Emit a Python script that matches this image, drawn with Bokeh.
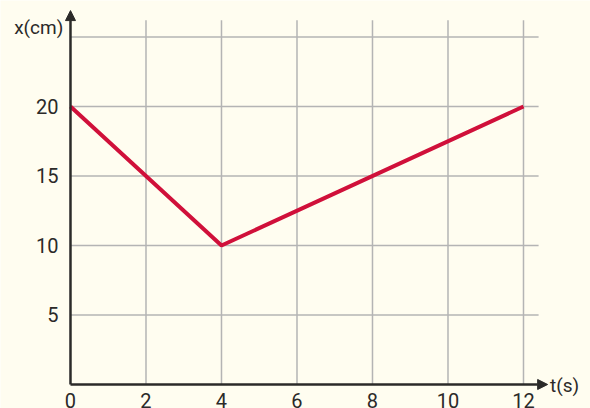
from bokeh.plotting import figure
from bokeh.models import FixedTicker, Arrow, NormalHead, Label, Range1d
from bokeh.embed import file_html
from bokeh.resources import INLINE

# data
t_values = [0, 4, 12]
x_values = [20, 10, 20]
x_ticks = [0, 2, 4, 6, 8, 10, 12]
y_ticks = [5, 10, 15, 20]
x_grid = [2, 4, 6, 8, 10, 12]
y_grid = [5, 10, 15, 20, 25]

BG = "#fffdf0"
INK = "#2b2a29"
FONT = "Roboto"

W, H = 590, 408
p = figure(width=W, height=H, output_backend="svg", toolbar_location=None,
           x_range=Range1d(-1.854, 13.775), y_range=Range1d(-1.727, 27.626),
           min_border=0, min_border_left=0, min_border_right=0,
           min_border_top=0, min_border_bottom=0,
           background_fill_color=BG, border_fill_color=BG, outline_line_color=None)
p.xgrid.visible = False
p.ygrid.visible = False

# grid lines
grid_col = "#b4b4b4"
p.segment(x0=x_grid, y0=[0] * len(x_grid), x1=x_grid, y1=[26.2] * len(x_grid),
          line_color=grid_col, line_width=1.5)
p.segment(x0=[0] * len(y_grid), y0=y_grid, x1=[12.4] * len(y_grid), y1=y_grid,
          line_color=grid_col, line_width=1.5)

# data line
p.line(t_values, x_values, line_color="#d0103a", line_width=4)

# axes
for ax in (p.xaxis, p.yaxis):
    ax.fixed_location = 0
    ax.axis_line_color = None
    ax.major_tick_line_color = None
    ax.minor_tick_line_color = None
    ax.major_tick_in = 0
    ax.major_tick_out = 0
    ax.minor_tick_in = 0
    ax.minor_tick_out = 0
    ax.major_label_text_font = FONT
    ax.major_label_text_font_size = "20px"
    ax.major_label_text_color = INK
p.xaxis.ticker = FixedTicker(ticks=x_ticks)
p.yaxis.ticker = FixedTicker(ticks=y_ticks)
p.xaxis.major_label_standoff = 9
p.yaxis.major_label_standoff = 12

# axis arrows
p.add_layout(Arrow(x_start=0, y_start=0, x_end=0, y_end=26.9, line_color=INK, line_width=2.5,
                   end=NormalHead(size=10, fill_color=INK, line_color=INK, line_width=1)))
p.add_layout(Arrow(x_start=0, y_start=0, x_end=12.64, y_end=0, line_color=INK, line_width=2.5,
                   end=NormalHead(size=10, fill_color=INK, line_color=INK, line_width=1)))

p.add_layout(Label(x=-0.19, y=25.7, text="x(cm)", text_align="right", text_baseline="middle",
                   text_font=FONT, text_font_size="19px", text_color=INK))
p.add_layout(Label(x=12.7, y=-0.05, text="t(s)", text_align="left", text_baseline="middle",
                   text_font=FONT, text_font_size="19px", text_color=INK))

html = file_html(p, INLINE)
html = html.replace("<body>", f"<body style=\"background:{BG};\">", 1)
open("out.html", "w").write(html)
